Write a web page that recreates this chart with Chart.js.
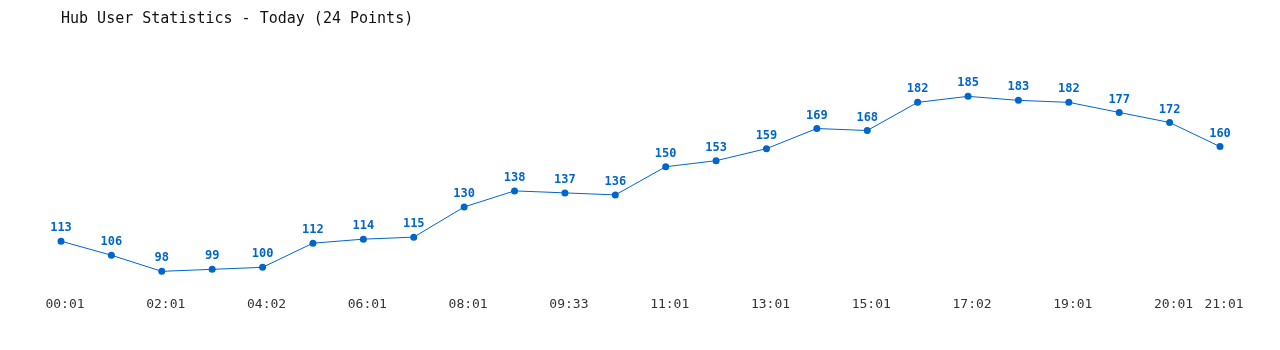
<!DOCTYPE html>
<html>
<head>
<meta charset="utf-8">
<script src="https://cdn.jsdelivr.net/npm/chart.js@4"></script>
<style>
  html, body { margin: 0; padding: 0; background: #fff; }
  #wrap { width: 1280px; height: 350px; }
</style>
</head>
<body>
<div id="wrap"><canvas id="canva" width="1280" height="350"></canvas></div>
<script>
const times = ["00:01", "01:01", "02:01", "03:01", "04:02", "05:01", "06:01", "07:01",
  "08:01", "09:01", "09:33", "10:01", "11:01", "12:01", "13:01", "14:01",
  "15:01", "16:01", "17:02", "18:01", "19:01", "19:31", "20:01", "21:01"];
const users = [113, 106, 98, 99, 100, 112, 114, 115, 130, 138, 137, 136,
  150, 153, 159, 169, 168, 182, 185, 183, 182, 177, 172, 160];

const blue = "#0066cc";

// value above each point
const pointLabels = {
  id: "pointLabels",
  afterDatasetsDraw(chart) {
    const c = chart.ctx;
    const meta = chart.getDatasetMeta(0);
    c.save();
    c.font = "bold 12px 'DejaVu Sans Mono', monospace";
    c.fillStyle = blue;
    c.textAlign = "center";
    c.textBaseline = "middle";
    meta.data.forEach((pt, i) => {
      c.fillText(users[i], pt.x, pt.y - 13);
    });
    c.restore();
  }
};

const ctx = document.getElementById("canva");
new Chart(ctx, {
  type: "line",
  data: {
    labels: times,
    datasets: [{
      data: users,
      borderColor: blue,
      backgroundColor: blue,
      borderWidth: 1,
      pointRadius: 3.5,
      pointBackgroundColor: blue,
      pointBorderWidth: 0,
      tension: 0,
      fill: false
    }]
  },
  options: {
    responsive: false,
    animation: false,
    layout: { padding: { left: 61, right: 60, top: 0, bottom: 32 } },
    scales: {
      x: {
        offset: false,
        grid: { display: false },
        border: { display: false },
        ticks: {
          autoSkip: false,
          maxRotation: 0,
          padding: 6,
          labelOffset: 4,
          color: "#333",
          font: { family: "'DejaVu Sans Mono', monospace", size: 13 },
          callback: function (v, i) {
            return (i % 2 === 0 || i === times.length - 1) ? times[i] : "";
          }
        }
      },
      y: {
        display: false,
        min: 92.5,
        max: 214
      }
    },
    plugins: {
      legend: { display: false },
      tooltip: { enabled: false },
      title: {
        display: true,
        text: "Hub User Statistics - Today (24 Points)",
        align: "start",
        color: "#111",
        font: { family: "'DejaVu Sans Mono', monospace", size: 15, weight: "normal" },
        padding: { top: 10, bottom: 10 }
      }
    }
  },
  plugins: [pointLabels]
});
</script>
</body>
</html>
